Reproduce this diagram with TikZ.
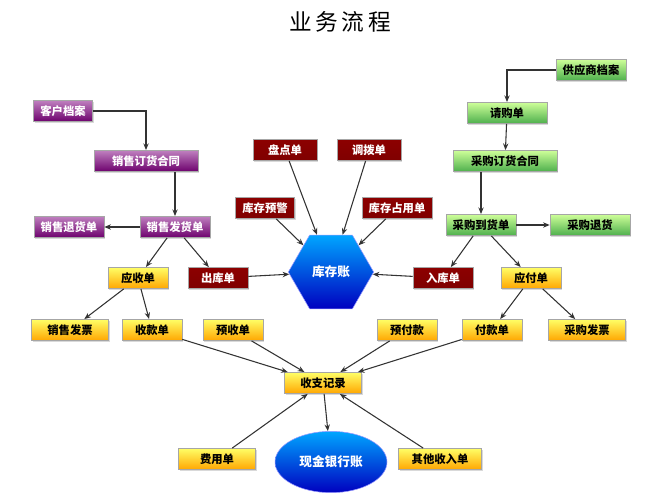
\documentclass[tikz,border=0pt]{standalone}
\usepackage{fontspec}
\newfontfamily\cjk{Noto Sans CJK SC}
\usetikzlibrary{shapes.geometric,arrows.meta,shadows}
\tikzset{
  box/.style={rectangle,draw=gray!70,font=\cjk\bfseries\fontsize{8.5}{9}\selectfont,
    minimum height=16pt,inner xsep=5pt,inner ysep=1pt,drop shadow={opacity=0.3,shadow xshift=1pt,shadow yshift=-1pt}},
  purplebox/.style={box,top color=violet!50,bottom color=violet!85!black,text=white},
  redbox/.style={box,top color=red!55!black,bottom color=red!50!black,text=white},
  yellowbox/.style={box,top color=yellow!60,bottom color=orange!70!yellow,text=black},
  greenbox/.style={box,top color=green!30!lime!40,bottom color=green!55!black!70,text=black},
  link/.style={-{Stealth[length=5pt,width=4pt]},black!80,thick}
}
\begin{document}
\begin{tikzpicture}[x=0.75pt,y=-0.75pt]
  \useasboundingbox (0,0) rectangle (649,499);
  \node[font=\cjk\fontsize{17}{19}\selectfont] (title) at (340,22) {业\,务\,流\,程};

  % sales side
  \node[purplebox] (kehu) at (63,111) {客户档案};
  \node[purplebox,minimum width=78pt] (xsht) at (146,161) {销售订货合同};
  \node[purplebox] (xsth) at (69,227) {销售退货单};
  \node[purplebox] (xsfh) at (175,227) {销售发货单};
  \node[yellowbox,minimum width=45pt] (yss) at (138,278) {应收单};
  \node[redbox,minimum width=45pt] (ckd) at (218,278) {出库单};
  \node[yellowbox,minimum width=58pt] (xsfp) at (70,330) {销售发票};
  \node[yellowbox,minimum width=45pt] (skd) at (152,330) {收款单};
  \node[yellowbox,minimum width=45pt] (ysd) at (233,330) {预收单};

  % stock
  \node[redbox,minimum width=48pt] (pdd) at (285,150) {盘点单};
  \node[redbox,minimum width=48pt] (dbd) at (369,150) {调拨单};
  \node[redbox] (kcyj) at (265,208) {库存预警};
  \node[redbox] (kczy) at (397,208) {库存占用单};
  \node[regular polygon,regular polygon sides=6,minimum size=64pt,inner sep=0pt,
    top color=blue!35!cyan,bottom color=blue!75!black,draw=blue!40,text=white,
    font=\cjk\bfseries\fontsize{9.5}{10}\selectfont] (kcz) at (331,272) {库存账};
  \node[redbox,minimum width=45pt] (rkd) at (443,278) {入库单};

  % purchase side
  \node[greenbox] (gys) at (591,70) {供应商档案};
  \node[greenbox,minimum width=60pt] (qgd) at (507,113) {请购单};
  \node[greenbox,minimum width=78pt] (cght) at (505,161) {采购订货合同};
  \node[greenbox] (cgdh) at (481,225) {采购到货单};
  \node[greenbox,minimum width=60pt] (cgth) at (590,225) {采购退货};
  \node[yellowbox,minimum width=45pt] (yfd) at (531,278) {应付单};
  \node[yellowbox,minimum width=45pt] (yfk) at (407,330) {预付款};
  \node[yellowbox,minimum width=45pt] (fkd) at (492,330) {付款单};
  \node[yellowbox,minimum width=58pt] (cgfp) at (587,330) {采购发票};

  % cash
  \node[yellowbox,minimum width=58pt] (szjl) at (323,383) {收支记录};
  \node[yellowbox,minimum width=58pt] (fyd) at (217,459) {费用单};
  \node[ellipse,minimum width=84pt,minimum height=46pt,inner sep=0pt,
    top color=blue!35!cyan,bottom color=blue!75!black,draw=blue!40,text=white,
    font=\cjk\bfseries\fontsize{9.5}{10}\selectfont] (xjyh) at (331,462) {现金银行账};
  \node[yellowbox,minimum width=62pt] (qtsr) at (440,459) {其他收入单};

  \draw[link] (kehu.east) -| (xsht.north);
  \draw[link] (xsht.south -| xsfh.north) -- (xsfh.north);
  \draw[link] (xsfh) -- (xsth);
  \draw[link] (xsfh) -- (yss);
  \draw[link] (xsfh) -- (ckd);
  \draw[link] (yss) -- (xsfp);
  \draw[link] (yss) -- (skd);
  \draw[link] (ckd) -- (kcz);
  \draw[link] (skd) -- (szjl);
  \draw[link] (ysd) -- (szjl);
  \draw[link] (pdd) -- (kcz);
  \draw[link] (dbd) -- (kcz);
  \draw[link] (kcyj) -- (kcz);
  \draw[link] (kczy) -- (kcz);
  \draw[link] (rkd) -- (kcz);
  \draw[link] (gys.west) -| (qgd.north);
  \draw[link] (qgd) -- (cght);
  \draw[link] (cght.south -| cgdh.north) -- (cgdh.north);
  \draw[link] (cgdh) -- (cgth);
  \draw[link] (cgdh) -- (rkd);
  \draw[link] (cgdh) -- (yfd);
  \draw[link] (yfd) -- (fkd);
  \draw[link] (yfd) -- (cgfp);
  \draw[link] (yfk) -- (szjl);
  \draw[link] (fkd) -- (szjl);
  \draw[link] (szjl) -- (xjyh);
  \draw[link] (fyd) -- (szjl);
  \draw[link] (qtsr) -- (szjl);
\end{tikzpicture}
\end{document}
